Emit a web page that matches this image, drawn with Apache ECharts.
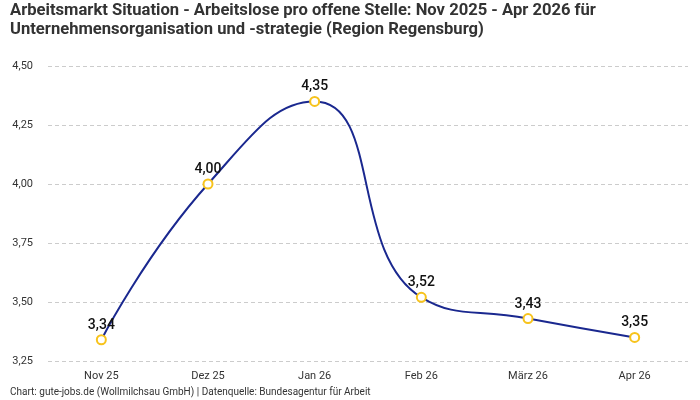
<!DOCTYPE html>
<html>
<head>
<meta charset="utf-8">
<script src="https://cdn.jsdelivr.net/npm/echarts@6/dist/echarts.min.js"></script>
<style>
  html, body { margin: 0; padding: 0; background: #fff; }
  #chart { width: 700px; height: 400px; }
</style>
</head>
<body>
<div id="chart"></div>
<script>
const months = ['Nov 25', 'Dez 25', 'Jan 26', 'Feb 26', 'März 26', 'Apr 26'];
const ratio = [3.34, 4.00, 4.35, 3.52, 3.43, 3.35];

const fmt = (v) => v.toFixed(2).replace('.', ',');

const chart = echarts.init(document.getElementById('chart'));

chart.setOption({
  animation: false,
  textStyle: { fontFamily: 'Roboto' },
  title: {
    text: 'Arbeitsmarkt Situation - Arbeitslose pro offene Stelle: Nov 2025 - Apr 2026 für\nUnternehmensorganisation und -strategie (Region Regensburg)',
    left: 10,
    top: 1,
    padding: 0,
    textStyle: { fontSize: 16.6, fontWeight: 'bold', color: '#333', lineHeight: 19, fontFamily: 'Roboto' }
  },
  graphic: [{
    type: 'text',
    left: 10,
    top: 387,
    style: { text: 'Chart: gute-jobs.de (Wollmilchsau GmbH) | Datenquelle: Bundesagentur für Arbeit', fontSize: 10, fill: '#333', fontFamily: 'Roboto' }
  }],
  grid: { left: 48, right: 12, top: 66, bottom: 39 },
  xAxis: {
    type: 'category',
    data: months,
    axisLine: { show: false },
    axisTick: { show: false },
    axisLabel: { color: '#333', fontSize: 11, margin: 10 }
  },
  yAxis: {
    type: 'value',
    min: 3.25,
    max: 4.5,
    interval: 0.25,
    axisLabel: { color: '#333', fontSize: 11, margin: 15, formatter: fmt },
    splitLine: { lineStyle: { color: '#ccc', type: [4, 3] } }
  },
  series: [{
    type: 'line',
    data: ratio,
    smooth: 0.5,
    symbol: 'circle',
    symbolSize: 9,
    lineStyle: { color: '#1a288f', width: 2 },
    itemStyle: { color: '#fff', borderColor: '#f7c31c', borderWidth: 2 },
    label: {
      show: true,
      position: 'top',
      distance: 2,
      color: '#111',
      fontSize: 14,
      fontWeight: 500,
      formatter: (p) => fmt(p.value)
    }
  }]
});
</script>
</body>
</html>
